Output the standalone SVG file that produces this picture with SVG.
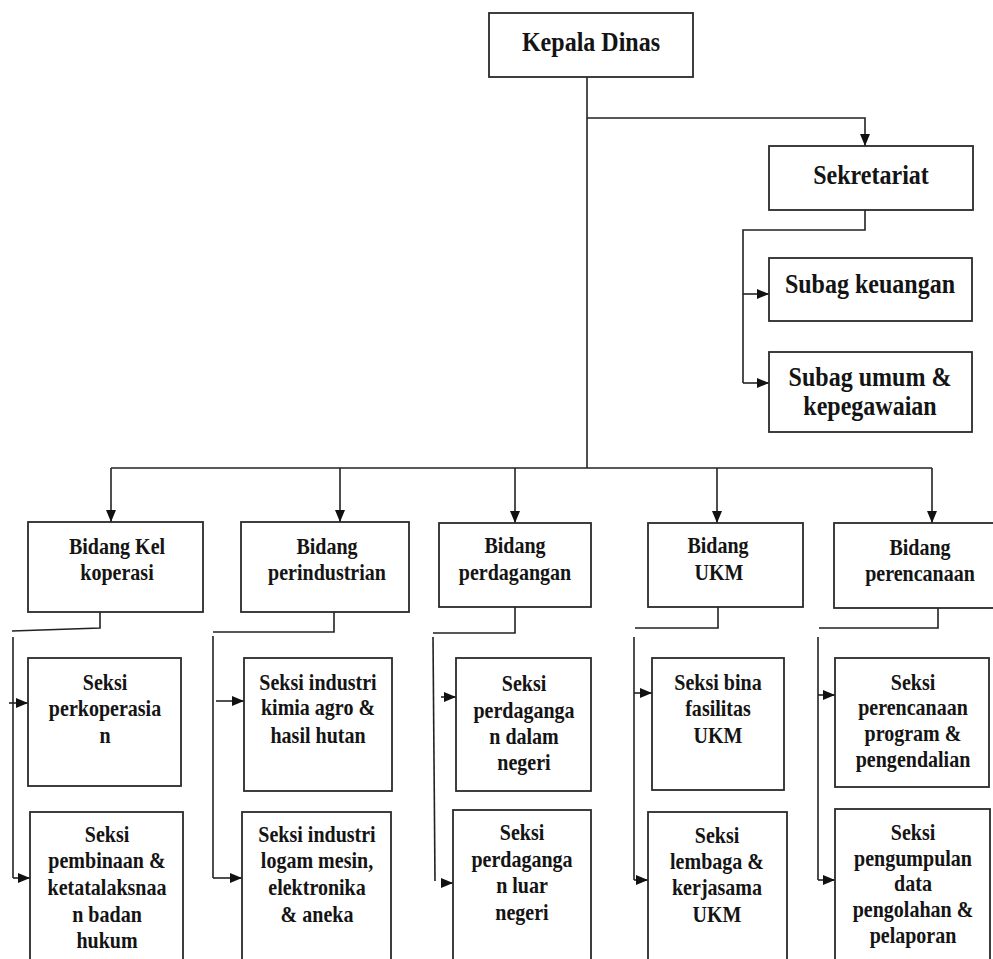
<svg xmlns="http://www.w3.org/2000/svg" width="993" height="959" viewBox="0 0 993 959">
<style>
.box{fill:#fff;stroke:#2a2a2a;stroke-width:1.8}
.ln{fill:none;stroke:#222;stroke-width:1.6}
.t{font-family:"Liberation Serif","Times New Roman",serif;font-weight:bold;fill:#141414;text-anchor:middle}
.l{font-size:27px}
.s{font-size:22.5px}
</style>
<defs>
<marker id="ah" markerUnits="userSpaceOnUse" markerWidth="12" markerHeight="10" refX="12" refY="5" orient="auto">
<path d="M0,0 L12,5 L0,10 Z" fill="#111"/>
</marker>
</defs>
<rect width="993" height="959" fill="#fff"/>
<g id="connectors">
<path class="ln" d="M587,77 V468"/>
<path class="ln" d="M587,118 H865 V146" marker-end="url(#ah)"/>
<path class="ln" d="M865,210 V230 H743 V383"/>
<path class="ln" d="M743,294 H769" marker-end="url(#ah)"/>
<path class="ln" d="M743,383 H769" marker-end="url(#ah)"/>
<path class="ln" d="M111,468 H932"/>
<path class="ln" d="M111,468 V522" marker-end="url(#ah)"/>
<path class="ln" d="M340,468 V522" marker-end="url(#ah)"/>
<path class="ln" d="M515,468 V523" marker-end="url(#ah)"/>
<path class="ln" d="M717,468 V523" marker-end="url(#ah)"/>
<path class="ln" d="M932,468 V523" marker-end="url(#ah)"/>
<path class="ln" d="M100,612 V628 L12,631"/>
<path class="ln" d="M13,637 V878"/>
<path class="ln" d="M9,703 H28" marker-end="url(#ah)"/>
<path class="ln" d="M13,878 H30" marker-end="url(#ah)"/>
<path class="ln" d="M334,612 V632 H213"/>
<path class="ln" d="M213,636 V878"/>
<path class="ln" d="M216,701 H244" marker-end="url(#ah)"/>
<path class="ln" d="M213,878 H242" marker-end="url(#ah)"/>
<path class="ln" d="M515,607 V633 H433"/>
<path class="ln" d="M433,637 L435,881"/>
<path class="ln" d="M441,697 H456" marker-end="url(#ah)"/>
<path class="ln" d="M441,883 H453" marker-end="url(#ah)"/>
<path class="ln" d="M718,607 V628 H635"/>
<path class="ln" d="M634,637 V880"/>
<path class="ln" d="M634,693 H652" marker-end="url(#ah)"/>
<path class="ln" d="M634,880 H648" marker-end="url(#ah)"/>
<path class="ln" d="M938,608 V628 H819"/>
<path class="ln" d="M818,637 V880"/>
<path class="ln" d="M818,695 H835" marker-end="url(#ah)"/>
<path class="ln" d="M818,880 H835" marker-end="url(#ah)"/>
</g>
<g id="kepala-dinas"><rect class="box" x="489" y="13" width="204" height="64"/><text class="t l" transform="translate(591,0) scale(0.89,1)" x="0" y="51">Kepala Dinas</text></g>
<g id="sekretariat"><rect class="box" x="769" y="146" width="204" height="64"/><text class="t l" transform="translate(871,0) scale(0.89,1)" x="0" y="184">Sekretariat</text></g>
<g id="subag-keuangan"><rect class="box" x="769" y="258" width="203" height="63"/><text class="t l" transform="translate(870,0) scale(0.89,1)" x="0" y="293">Subag keuangan</text></g>
<g id="subag-umum"><rect class="box" x="769" y="352" width="203" height="80"/><text class="t l" transform="translate(870,0) scale(0.89,1)" x="0" y="386">Subag umum &amp;<tspan x="0" y="415">kepegawaian</tspan></text></g>
<g id="bidang-koperasi"><rect class="box" x="28" y="522" width="175" height="90"/><text class="t s" transform="translate(117,0) scale(0.89,1)" x="0" y="554">Bidang Kel<tspan x="0" y="580">koperasi</tspan></text></g>
<g id="bidang-perindustrian"><rect class="box" x="241" y="522" width="168" height="90"/><text class="t s" transform="translate(327,0) scale(0.89,1)" x="0" y="554">Bidang<tspan x="0" y="580">perindustrian</tspan></text></g>
<g id="bidang-perdagangan"><rect class="box" x="439" y="523" width="152" height="84"/><text class="t s" transform="translate(515,0) scale(0.89,1)" x="0" y="553">Bidang<tspan x="0" y="580">perdagangan</tspan></text></g>
<g id="bidang-ukm"><rect class="box" x="648" y="523" width="155" height="84"/><text class="t s" transform="translate(718,0) scale(0.89,1)" x="0" y="553">Bidang<tspan x="1" y="580">UKM</tspan></text></g>
<g id="bidang-perencanaan"><rect class="box" x="834" y="523" width="170" height="85"/><text class="t s" transform="translate(920,0) scale(0.89,1)" x="0" y="555">Bidang<tspan x="0" y="581">perencanaan</tspan></text></g>
<g id="seksi-perkoperasian"><rect class="box" x="28" y="658" width="153" height="128"/><text class="t s" transform="translate(105,0) scale(0.89,1)" x="0" y="690">Seksi<tspan x="0" y="716">perkoperasia</tspan><tspan x="0" y="743">n</tspan></text></g>
<g id="seksi-pembinaan"><rect class="box" x="30" y="812" width="153" height="160"/><text class="t s" transform="translate(107,0) scale(0.89,1)" x="0" y="842">Seksi<tspan x="0" y="868">pembinaan &amp;</tspan><tspan x="0" y="895">ketatalaksnaa</tspan><tspan x="0" y="922">n badan</tspan><tspan x="0" y="948">hukum</tspan></text></g>
<g id="seksi-kimia"><rect class="box" x="244" y="658" width="148" height="133"/><text class="t s" transform="translate(318,0) scale(0.89,1)" x="0" y="690">Seksi industri<tspan x="0" y="715">kimia agro &amp;</tspan><tspan x="0" y="743">hasil hutan</tspan></text></g>
<g id="seksi-logam"><rect class="box" x="242" y="812" width="149" height="160"/><text class="t s" transform="translate(317,0) scale(0.89,1)" x="0" y="842">Seksi industri<tspan x="0" y="868">logam mesin,</tspan><tspan x="0" y="895">elektronika</tspan><tspan x="0" y="922">&amp; aneka</tspan></text></g>
<g id="seksi-dalam-negeri"><rect class="box" x="456" y="658" width="135" height="133"/><text class="t s" transform="translate(524,0) scale(0.89,1)" x="0" y="691">Seksi<tspan x="0" y="718">perdaganga</tspan><tspan x="0" y="744">n dalam</tspan><tspan x="0" y="770">negeri</tspan></text></g>
<g id="seksi-luar-negeri"><rect class="box" x="453" y="810" width="138" height="160"/><text class="t s" transform="translate(522,0) scale(0.89,1)" x="0" y="840">Seksi<tspan x="0" y="867">perdaganga</tspan><tspan x="0" y="893">n luar</tspan><tspan x="0" y="920">negeri</tspan></text></g>
<g id="seksi-bina-fasilitas"><rect class="box" x="652" y="658" width="132" height="132"/><text class="t s" transform="translate(718,0) scale(0.89,1)" x="0" y="690">Seksi bina<tspan x="0" y="716">fasilitas</tspan><tspan x="0" y="743">UKM</tspan></text></g>
<g id="seksi-lembaga"><rect class="box" x="648" y="812" width="139" height="160"/><text class="t s" transform="translate(717,0) scale(0.89,1)" x="0" y="843">Seksi<tspan x="0" y="869">lembaga &amp;</tspan><tspan x="0" y="895">kerjasama</tspan><tspan x="0" y="922">UKM</tspan></text></g>
<g id="seksi-perencanaan"><rect class="box" x="835" y="658" width="154" height="129"/><text class="t s" transform="translate(913,0) scale(0.89,1)" x="0" y="690">Seksi<tspan x="0" y="715">perencanaan</tspan><tspan x="0" y="741">program &amp;</tspan><tspan x="0" y="767">pengendalian</tspan></text></g>
<g id="seksi-pengumpulan"><rect class="box" x="835" y="809" width="155" height="160"/><text class="t s" transform="translate(913,0) scale(0.89,1)" x="0" y="840">Seksi<tspan x="0" y="866">pengumpulan</tspan><tspan x="0" y="891">data</tspan><tspan x="0" y="917">pengolahan &amp;</tspan><tspan x="0" y="943">pelaporan</tspan></text></g>
</svg>
